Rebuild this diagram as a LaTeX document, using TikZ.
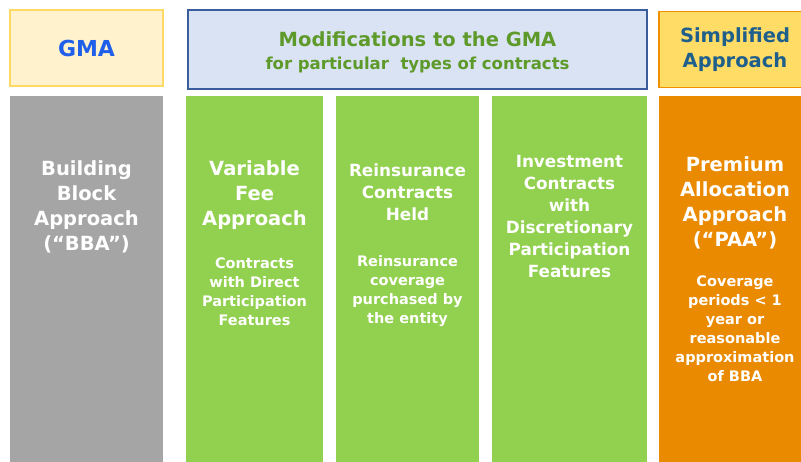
\documentclass[tikz,border=0pt]{standalone}
\usepackage{fontspec}
\setmainfont{DejaVu Sans}
\definecolor{gmafill}{HTML}{FFF2CC}
\definecolor{gmaline}{HTML}{FFD966}
\definecolor{gmablue}{HTML}{1F5FEA}
\definecolor{modfill}{HTML}{DAE3F3}
\definecolor{modline}{HTML}{3A5E9C}
\definecolor{modgreen}{HTML}{5E9A2A}
\definecolor{simfill}{HTML}{FFDC65}
\definecolor{simline}{HTML}{EE9000}
\definecolor{simblue}{HTML}{1F5F8B}
\definecolor{bbagrey}{HTML}{A5A5A5}
\definecolor{colgreen}{HTML}{92D050}
\definecolor{paaorange}{HTML}{EA8A00}
\begin{document}
\begin{tikzpicture}[x=1pt,y=-1pt,
  head/.style={inner sep=0pt,outer sep=0pt,line width=1.4pt,minimum height=76pt,align=center,font=\bfseries\fontsize{19.5}{25}\selectfont},
  column/.style={inner sep=0pt,outer sep=0pt,minimum height=370pt},
  bigtxt/.style={text=white,align=center,font=\bfseries\fontsize{19.5}{25}\selectfont},
  midtxt/.style={text=white,align=center,font=\bfseries\fontsize{16.8}{22}\selectfont},
  smalltxt/.style={text=white,align=center,font=\bfseries\fontsize{14.5}{19}\selectfont}]

\useasboundingbox (0,0) rectangle (801,462);

% En-tetes
\node[head,fill=gmafill,draw=gmaline,minimum width=153pt,text=gmablue,font=\bfseries\fontsize{22}{26}\selectfont] (gma) at (86.5,48) {GMA};
\node[head,fill=modfill,draw=modline,minimum width=459pt,minimum height=79pt,text=modgreen] (mod) at (417.5,49.5) {};
\node[text=modgreen,align=center,font=\bfseries\fontsize{19.5}{23}\selectfont] (modtxt) at (417.5,52)
  {Modifications to the GMA\\{\fontsize{16.5}{23}\selectfont for particular\ \ types of contracts}};
\node[head,fill=simfill,draw=simline,minimum width=152pt,text=simblue] (sim) at (735,49.5) {Simplified\\Approach};

% Colonnes
\node[column,fill=bbagrey,minimum width=153pt] (bba) at (86.5,281) {};
\node[column,fill=colgreen,minimum width=137pt] (vfa) at (254.5,281) {};
\node[column,fill=colgreen,minimum width=143pt] (rch) at (407.5,281) {};
\node[column,fill=colgreen,minimum width=155pt] (dpf) at (569.5,281) {};
\node[column,fill=paaorange,minimum width=152pt] (paa) at (735,281) {};

% Textes des colonnes
\node[bigtxt] (bbatitle) at (86.5,207) {Building\\Block\\Approach\\(“BBA”)};
\node[bigtxt] (vfatitle) at (254.5,195) {Variable\\Fee\\Approach};
\node[smalltxt] (vfasub) at (254.5,292) {Contracts\\with Direct\\Participation\\Features};
\node[midtxt] (rchtitle) at (407.5,192) {Reinsurance\\Contracts\\Held};
\node[smalltxt] (rchsub) at (407.5,291) {Reinsurance\\coverage\\purchased by\\the entity};
\node[midtxt] (dpftitle) at (569.5,216) {Investment\\Contracts\\with\\Discretionary\\Participation\\Features};
\node[bigtxt] (paatitle) at (735,203) {Premium\\Allocation\\Approach\\(“PAA”)};
\node[smalltxt] (paasub) at (735,328.5) {Coverage\\periods < 1\\year or\\reasonable\\approximation\\of BBA};
\end{tikzpicture}
\end{document}
